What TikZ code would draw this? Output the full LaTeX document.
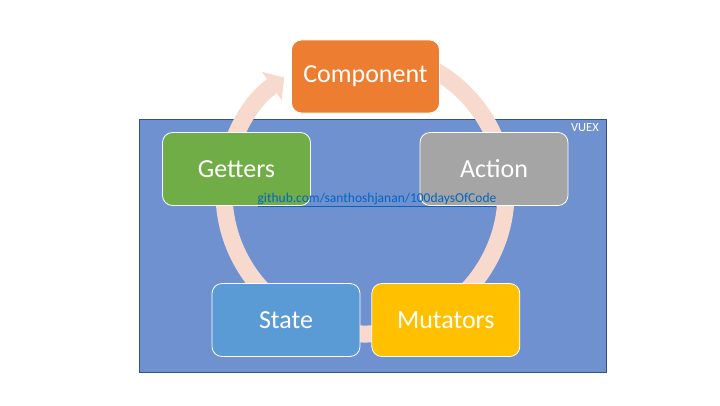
\documentclass[tikz,border=0pt]{standalone}
\usepackage{fontspec}
\setmainfont{Carlito}
\usetikzlibrary{positioning,arrows.meta}
\definecolor{vuexblue}{HTML}{6F91D0}
\definecolor{vuexline}{HTML}{2F528F}
\definecolor{ringpink}{HTML}{F7D9CE}
\definecolor{compcol}{HTML}{ED7D31}
\definecolor{getcol}{HTML}{70AD47}
\definecolor{actcol}{HTML}{A5A5A5}
\definecolor{statecol}{HTML}{5B9BD5}
\definecolor{mutcol}{HTML}{FFC000}
\definecolor{linkcol}{HTML}{0563C1}
\tikzset{
	stepbox/.style = {rectangle, rounded corners=10pt, draw=white, line width=0.8pt,
	 minimum width=148pt, minimum height=73pt, text=white,
	 font=\fontsize{26}{30}\selectfont}}
\tikzset{
	ring/.style = {draw=ringpink, line width=17pt}}

\begin{document}
\begin{tikzpicture}[x=1pt, y=1pt, node distance=11pt]
\useasboundingbox (0,0) rectangle (720,-405);

% AREA
\node (vuex) [draw=vuexline, line width=1pt, fill=vuexblue, minimum width=467pt,
	minimum height=253pt, anchor=north west] at (138.5,-119) {};
\node (vuexlabel) [anchor=north east, text=white, inner sep=0pt,
	font=\fontsize{12.5}{14}\selectfont] at (599,-123) {VUEX};

% CYCLE
\coordinate (hub) at (365,-193);
\draw [ring, -{Triangle[length=15pt, width=34pt]}] ([shift={(60:141)}]hub)
	arc[start angle=60, end angle=-235, radius=141];

% NODES
\node (component) [stepbox, fill=compcol] at (365.5,-76.5) {Component};
\node (getters) [stepbox, fill=getcol] at (236.5,-169) {Getters};
\node (action) [stepbox, fill=actcol] at (494,-169) {Action};
\node (state) [stepbox, fill=statecol] at (286,-320) {State};
\node (mutators) [stepbox, fill=mutcol, right=of state] {Mutators};

% LINK
\node (link) [text=linkcol, inner sep=0pt, font=\fontsize{13.5}{15}\selectfont]
	at (377,-199.5) {\underline{github.com/santhoshjanan/100daysOfCode}};

\end{tikzpicture}
\end{document}
